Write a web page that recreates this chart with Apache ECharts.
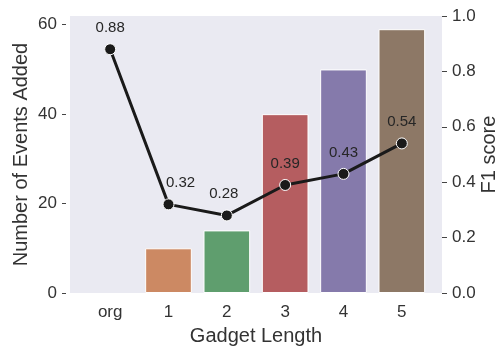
<!DOCTYPE html>
<html>
<head>
<meta charset="utf-8">
<script src="https://cdn.jsdelivr.net/npm/echarts@6/dist/echarts.min.js"></script>
<style>
html,body{margin:0;padding:0;background:#fff;}
#chart{width:497px;height:346px;}
</style>
</head>
<body>
<div id="chart"></div>
<script>
// ---- data ----
var categories = ['org', '1', '2', '3', '4', '5'];
var eventsAdded = [0, 10, 14, 40, 50, 59];
var f1Scores = [0.88, 0.32, 0.28, 0.39, 0.43, 0.54];
var leftTicks = [0, 20, 40, 60];
var rightTicks = [0, 0.2, 0.4, 0.6, 0.8, 1.0];
var barColors = ['#5F77A4', '#CC8963', '#5F9E6E', '#B55D60', '#857AAB', '#8D7866'];

var FONT = '"Liberation Sans", Arial, sans-serif';
var TXT = '#333333';

var chart = echarts.init(document.getElementById('chart'), null, {renderer: 'canvas'});

var labelOffsets = {1: [12, 0], 2: [-3, 0]};

var option = {
  animation: false,
  backgroundColor: '#ffffff',
  textStyle: {fontFamily: FONT},
  grid: [
    {left: 70, right: 55, top: 16, bottom: 53, show: true, backgroundColor: '#EAEAF2', borderWidth: 0,
     containLabel: false, outerBoundsMode: 'none'},
    {left: 81, right: 66, top: 16, bottom: 53, show: false, containLabel: false, outerBoundsMode: 'none'}
  ],
  xAxis: [
    {type: 'category', gridIndex: 0, data: categories, show: false},
    {
      type: 'category', gridIndex: 1, data: categories,
      axisLine: {show: false}, axisTick: {show: false},
      axisLabel: {fontSize: 17, color: TXT, margin: 11, fontFamily: FONT},
      name: 'Gadget Length', nameLocation: 'middle', nameGap: 33, nameMoveOverlap: false,
      nameTextStyle: {fontSize: 20, color: TXT, fontFamily: FONT},
      splitLine: {show: false}
    }
  ],
  yAxis: [
    {type: 'value', gridIndex: 0, show: false, min: 0, max: 1},
    {
      type: 'value', gridIndex: 1, position: 'left', offset: 15,
      min: 0, max: 59 * 1.05, interval: 20,
      axisLine: {show: false},
      axisTick: {show: true, length: 4, lineStyle: {color: '#444', width: 1}, customValues: leftTicks},
      axisLabel: {fontSize: 17, color: TXT, margin: 9, fontFamily: FONT, customValues: leftTicks},
      splitLine: {show: false},
      name: 'Number of Events Added', nameLocation: 'middle', nameGap: 35, nameMoveOverlap: false,
      nameTextStyle: {fontSize: 20, color: TXT, fontFamily: FONT}
    },
    {
      type: 'value', gridIndex: 1, position: 'right', offset: 11,
      min: 0, max: 1, interval: 0.2,
      axisLine: {show: false},
      axisTick: {show: true, length: 5, lineStyle: {color: '#444', width: 1}},
      axisLabel: {fontSize: 17, color: TXT, margin: 10, fontFamily: FONT,
        formatter: function (v) { return v.toFixed(1); }},
      splitLine: {show: false},
      name: 'F1 score', nameLocation: 'middle', nameGap: 37, nameMoveOverlap: false,
      nameTextStyle: {fontSize: 20, color: TXT, fontFamily: FONT}
    }
  ],
  series: [
    {
      type: 'bar', xAxisIndex: 1, yAxisIndex: 1, barWidth: '80%', z: 2,
      data: eventsAdded.map(function (v, i) {
        return {value: v, itemStyle: {color: barColors[i], borderColor: '#ffffff', borderWidth: v === 0 ? 0 : 1}};
      })
    },
    {
      type: 'line', xAxisIndex: 1, yAxisIndex: 2, z: 5,
      symbol: 'circle', symbolSize: 11,
      lineStyle: {color: '#1a1a1a', width: 3},
      itemStyle: {color: '#1a1a1a', borderColor: '#ffffff', borderWidth: 1},
      label: {show: true, position: 'top', distance: 8, fontSize: 15, color: '#262626', fontFamily: FONT,
        formatter: function (p) { return p.value.toFixed(2); }},
      data: f1Scores.map(function (v, i) {
        var d = {value: v};
        if (labelOffsets[i]) d.label = {offset: labelOffsets[i]};
        return d;
      })
    }
  ]
};
chart.setOption(option);
</script>
</body>
</html>
